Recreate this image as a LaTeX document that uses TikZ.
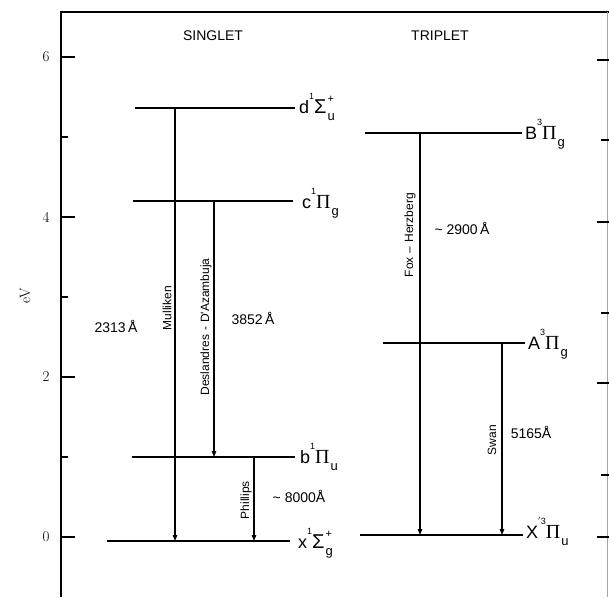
\documentclass[tikz,border=0pt]{standalone}
\usepackage{fontspec}
\newfontfamily\lab{Liberation Sans}
\newfontfamily\grk{Liberation Serif}
\usetikzlibrary{arrows.meta}
% state label: #1 letter, #2 left superscript, #3 greek, #4 subscript, #5 right superscript
\newcommand\stlab[5]{%
  {\fontsize{18}{18}\selectfont #1}%
  \raisebox{14pt}{\fontsize{9}{9}\selectfont #2}%
  {\fontsize{20}{20}\selectfont #3}%
  \hspace{1pt}\rlap{\raisebox{11pt}{\fontsize{11}{11}\selectfont #5}}%
  \raisebox{-7pt}{\fontsize{13}{13}\selectfont #4}}
\tikzset{
  level/.style={line width=1.3pt},
  trans/.style={line width=1.1pt,-{Triangle[length=6pt,width=4.5pt]}},
  axis/.style={line width=1.4pt},
  tickmark/.style={line width=1.2pt},
  faint/.style={line width=0.5pt,black!35},
  statelab/.style={anchor=base west,inner sep=0pt,font=\lab},
  head/.style={font=\lab\fontsize{14}{14}\selectfont},
  wave/.style={font=\lab\fontsize{14}{14}\selectfont,inner sep=0pt},
  who/.style={font=\lab\fontsize{12}{12}\selectfont,rotate=90,inner sep=0pt},
  num/.style={font=\fontsize{15}{15}\selectfont,inner sep=0pt},
}
\begin{document}
\begin{tikzpicture}[x=1pt,y=-1pt]
\useasboundingbox (0,0) rectangle (609,597);
\fill[white] (0,0) rectangle (609,597);

% frame
\coordinate (fbl) at (61,597);
\coordinate (ftl) at (61,12);
\coordinate (ftr) at (609,12);
\coordinate (rt) at (607,12);
\coordinate (rb) at (607,597);
\draw[axis] (fbl) -- (ftl) -- (ftr);
\draw[faint] (rt) -- (rb);

% left ticks
\foreach \yy in {57,217,377,537} \draw[tickmark] (61,\yy) -- (75,\yy);
\foreach \yy in {137,297,457} \draw[tickmark] (61,\yy) -- (68,\yy);
% right ticks
\foreach \yy in {60,222,383,537} \draw[tickmark] (597,\yy) -- (609,\yy);
\foreach \yy in {140,313,475} \draw[tickmark] (601,\yy) -- (609,\yy);

% axis numbers
\node[num] (n6) at (46,57) {6};
\node[num] (n4) at (46,217) {4};
\node[num] (n2) at (46,377) {2};
\node[num] (n0) at (46,537) {0};
\node[num,rotate=90] (ev) at (25,296) {eV};

% headings
\node[head] (singlet) at (213,36) {SINGLET};
\node[head] (triplet) at (440,36) {TRIPLET};

% singlet levels
\coordinate (dL) at (135,108); \coordinate (dR) at (295,108);
\coordinate (cL) at (133,201); \coordinate (cR) at (293,201);
\coordinate (bL) at (132,457); \coordinate (bR) at (295,457);
\coordinate (xL) at (107,541); \coordinate (xR) at (290,541);
\draw[level] (dL) -- (dR);
\draw[level] (cL) -- (cR);
\draw[level] (bL) -- (bR);
\draw[level] (xL) -- (xR);
\node[statelab] (dlab) at (299,113) {\stlab{d}{1}{Σ}{u}{+}};
\node[statelab] (clab) at (302,208) {\stlab{c}{1}{\grk Π}{g}{}};
\node[statelab] (blab) at (300,463) {\stlab{b}{1}{\grk Π}{u}{}};
\node[statelab] (xlab) at (298,548) {\stlab{x}{1}{Σ}{g}{+}};

% triplet levels
\coordinate (BL) at (365,133); \coordinate (BR) at (522,133);
\coordinate (AL) at (383,343); \coordinate (AR) at (525,343);
\coordinate (XL) at (360,535); \coordinate (XR) at (523,535);
\draw[level] (BL) -- (BR);
\draw[level] (AL) -- (AR);
\draw[level] (XL) -- (XR);
\node[statelab] (Blab) at (525,139) {\stlab{B}{3}{\grk Π}{g}{}};
\node[statelab] (Alab) at (528,349) {\stlab{A}{3}{\grk Π}{g}{}};
\node[statelab] (Xlab) at (526,538) {\stlab{X}{$'$3}{\grk Π}{u}{}};

% transitions
\coordinate (m1) at (175,108); \coordinate (m2) at (175,541);
\coordinate (dd1) at (214,201); \coordinate (dd2) at (214,457);
\coordinate (p1) at (254,457); \coordinate (p2) at (254,541);
\coordinate (f1) at (420,133); \coordinate (f2) at (420,535);
\coordinate (s1) at (502,343); \coordinate (s2) at (502,535);
\draw[trans] (m1) -- (m2);
\draw[trans] (dd1) -- (dd2);
\draw[trans] (p1) -- (p2);
\draw[trans] (f1) -- (f2);
\draw[trans] (s1) -- (s2);

% transition names
\node[who] (mull) at (167,308) {Mulliken};
\node[who] (desl) at (206,327) {Deslandres\,\,-\,\,D'Azambuja};
\node[who] (phil) at (246,500) {Phillips};
\node[who] (foxh) at (410,235) {Fox\,\,–\,\,Herzberg};
\node[who] (swan) at (492,440) {Swan};

% wavelengths
\node[wave] (w1) at (116,326) {2313\,Å};
\node[wave] (w2) at (253,318) {3852\,Å};
\node[wave] (w3) at (299,496) {\textasciitilde\ 8000Å};
\node[wave] (w4) at (462,228) {\textasciitilde\ 2900\,Å};
\node[wave] (w5) at (531,432) {5165Å};
\end{tikzpicture}
\end{document}
